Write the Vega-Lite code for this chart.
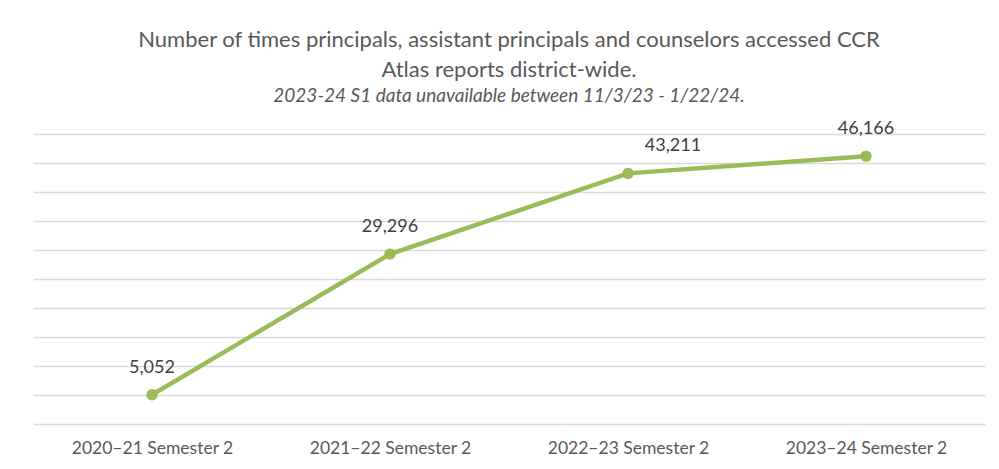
{
  "$schema": "https://vega.github.io/schema/vega-lite/v6.json",
  "autosize": "none",
  "width": 952,
  "height": 290,
  "padding": {"left": 33, "top": 134, "right": 14, "bottom": 45},
  "background": "white",
  "title": {
    "text": ["Number of times principals, assistant principals and counselors accessed CCR", "Atlas reports district-wide."],
    "subtitle": "2023-24 S1 data unavailable between 11/3/23 - 1/22/24.",
    "anchor": "middle",
    "font": "Lato",
    "fontSize": 22,
    "fontWeight": "normal",
    "color": "#595959",
    "lineHeight": 30,
    "subtitleFont": "Lato",
    "subtitleFontSize": 19,
    "subtitleFontStyle": "italic",
    "subtitleColor": "#595959",
    "subtitlePadding": 5,
    "offset": 13
  },
  "data": {
    "values": [
      {"term": "2020–21 Semester 2", "count": 5052},
      {"term": "2021–22 Semester 2", "count": 29296},
      {"term": "2022–23 Semester 2", "count": 43211},
      {"term": "2023–24 Semester 2", "count": 46166}
    ]
  },
  "encoding": {
    "x": {
      "field": "term",
      "type": "nominal",
      "sort": null,
      "scale": {"type": "point", "padding": 0.5},
      "axis": {
        "title": null,
        "labelAngle": 0,
        "labelFont": "Lato",
        "labelFontSize": 17.5,
        "labelColor": "#595959",
        "labelPadding": 15,
        "domain": false,
        "ticks": false,
        "grid": false
      }
    },
    "y": {
      "field": "count",
      "type": "quantitative",
      "scale": {"domain": [0, 50000], "nice": false},
      "axis": {
        "title": null,
        "labels": false,
        "ticks": false,
        "domain": false,
        "values": [0, 5000, 10000, 15000, 20000, 25000, 30000, 35000, 40000, 45000, 50000],
        "gridColor": "#d9d9d9",
        "gridWidth": 1.5
      }
    }
  },
  "layer": [
    {
      "mark": {"type": "line", "color": "#9bbb59", "strokeWidth": 4.5, "point": {"filled": true, "size": 130, "color": "#9bbb59"}}
    },
    {
      "transform": [{"filter": "datum.term !== '2022–23 Semester 2'"}],
      "mark": {"type": "text", "font": "Lato", "fontSize": 18, "color": "#404040", "dy": -27},
      "encoding": {"text": {"field": "count", "type": "quantitative", "format": ","}}
    },
    {
      "transform": [{"filter": "datum.term === '2022–23 Semester 2'"}],
      "mark": {"type": "text", "font": "Lato", "fontSize": 18, "color": "#404040", "dy": -27, "dx": 45},
      "encoding": {"text": {"field": "count", "type": "quantitative", "format": ","}}
    }
  ],
  "config": {"view": {"stroke": null}}
}
